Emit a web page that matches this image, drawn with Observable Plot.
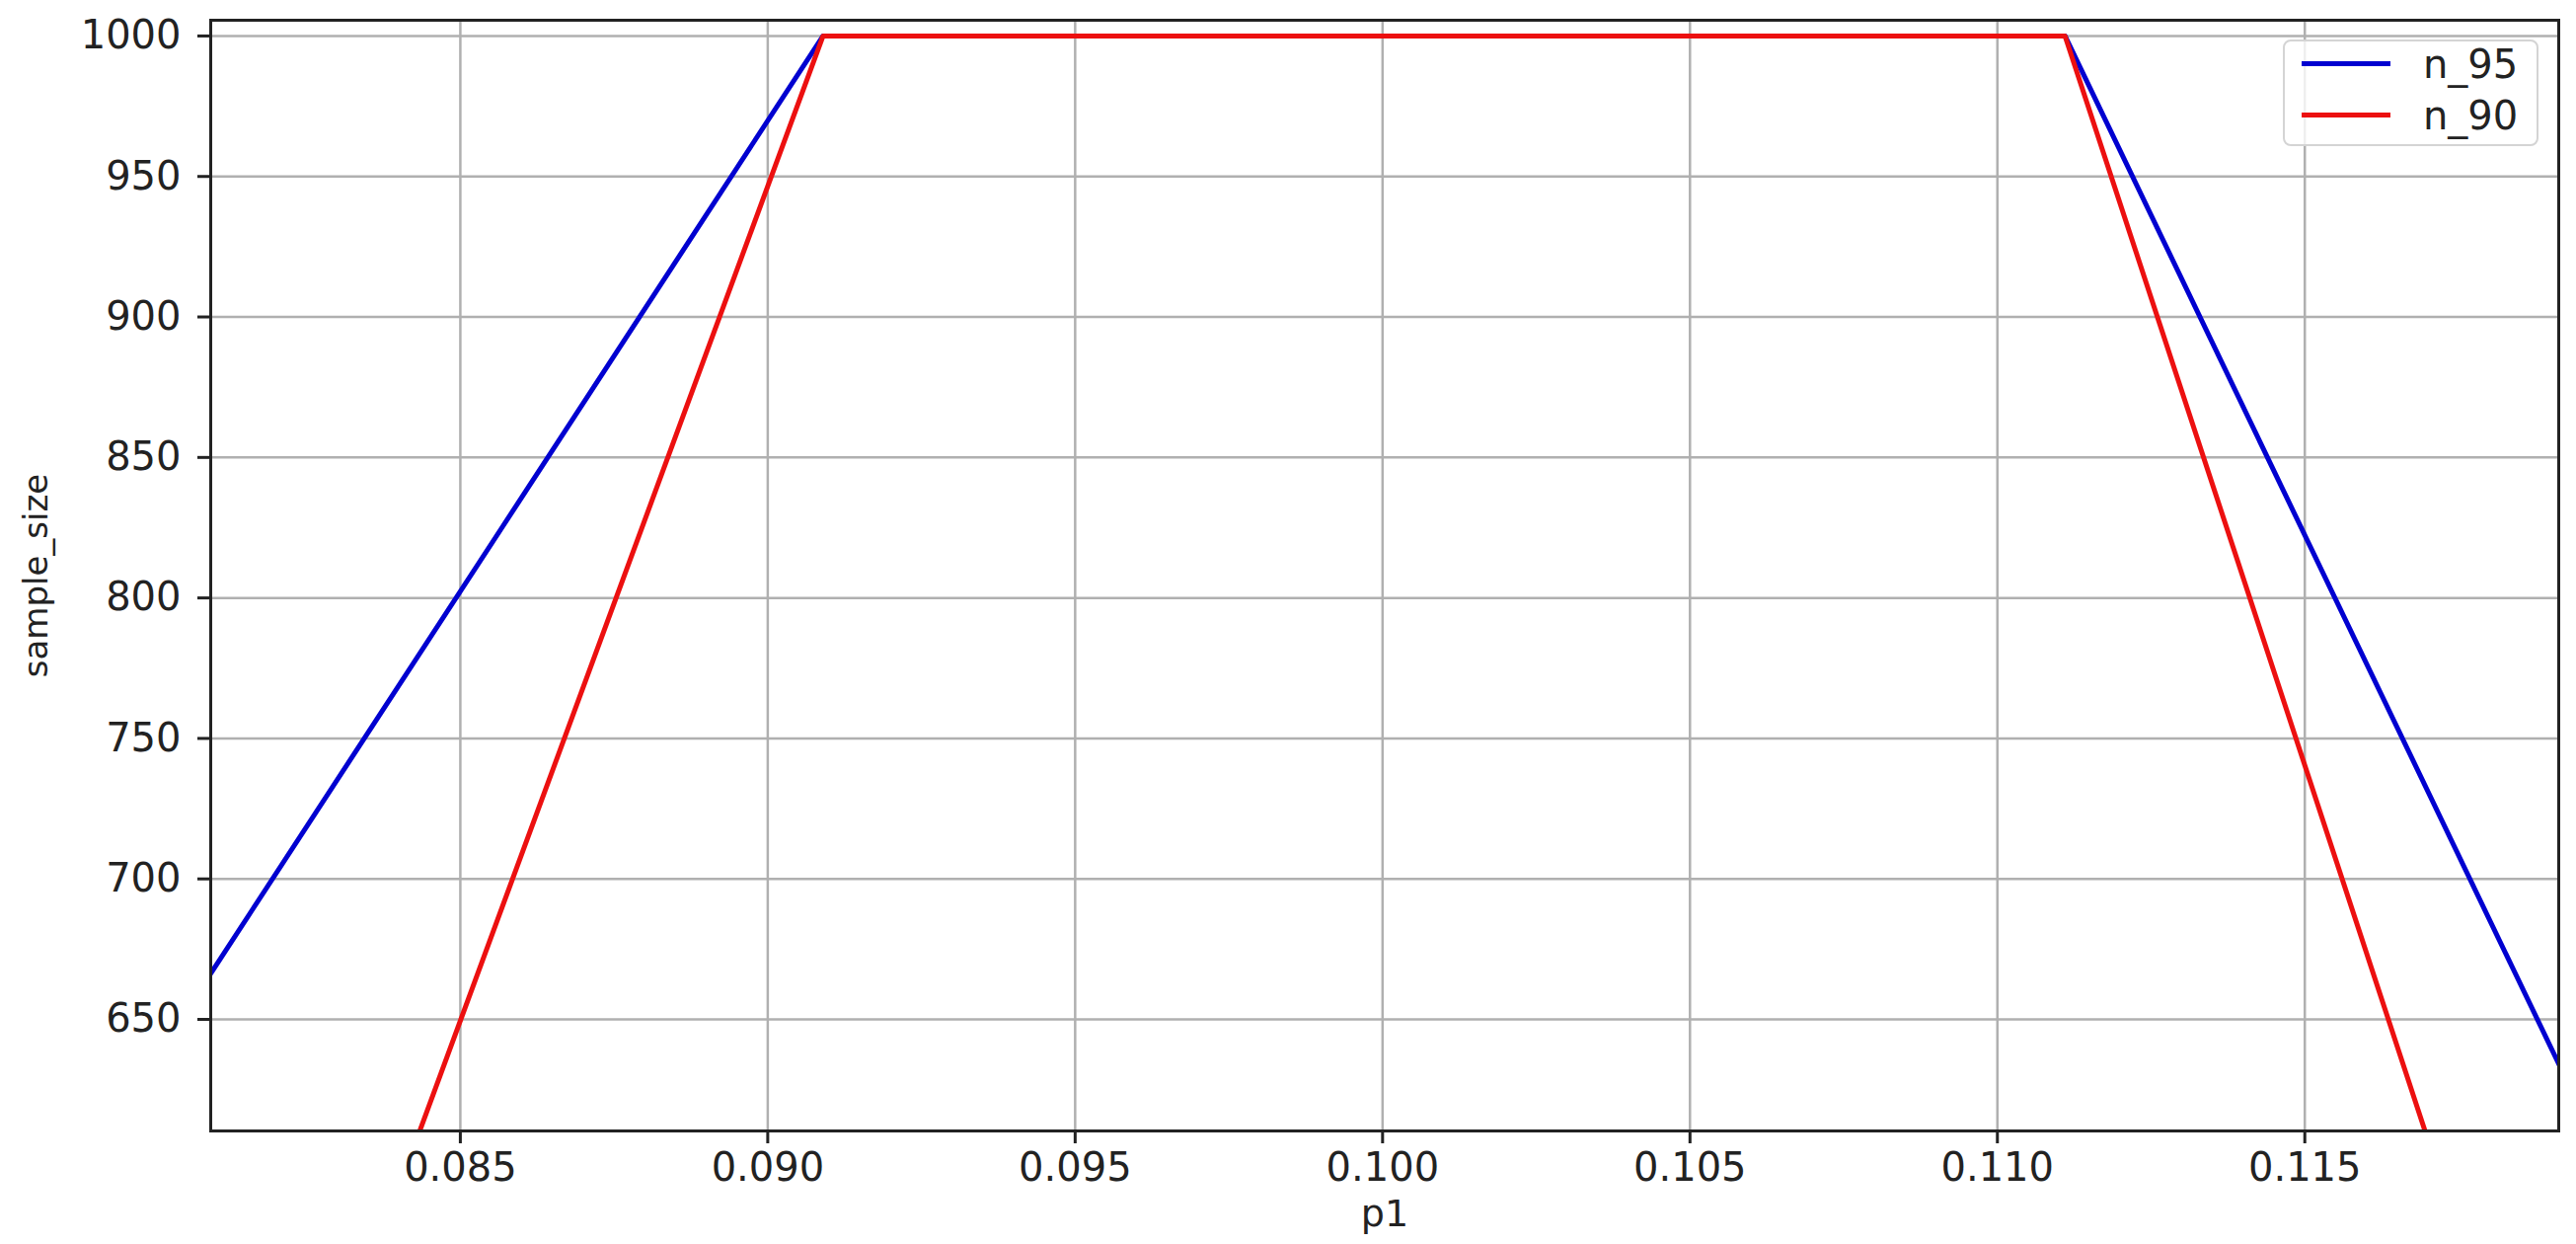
<!DOCTYPE html>
<html><head><meta charset="utf-8">
<script src="https://cdn.jsdelivr.net/npm/d3@7"></script>
<script src="https://cdn.jsdelivr.net/npm/@observablehq/plot@0.6"></script>
<style>
body{margin:0;background:#fff;}
#wrap{position:relative;width:2610px;height:1260px;overflow:hidden;background:#fff;}
#chart{position:absolute;left:0;top:0;width:2610px;height:1260px;}
.legend{position:absolute;left:2313px;top:40px;width:255px;height:104px;border:2px solid #d4d4d4;border-radius:8px;background:rgba(255,255,255,0.8);font-family:"DejaVu Sans";font-size:40px;color:#222;}
.legend .h{position:absolute;left:17px;width:90px;height:5px;}
.legend .t{position:absolute;left:140px;line-height:1;}
</style></head><body>
<div id="wrap"><div id="chart"></div><div class="legend" id="legend"></div></div>
<script>
const xDomain = [0.08094, 0.11913];
const yDomain = [610.3, 1005.6];
const xTicks = [0.085, 0.090, 0.095, 0.100, 0.105, 0.110, 0.115];
const yTicks = [650, 700, 750, 800, 850, 900, 950, 1000];
const seriesNames = ["n_95", "n_90"];
const seriesColors = ["#0000d0", "#ec1010"];
const p1_n95 = [0.0809, 0.0909, 0.1111, 0.1192];
const n95 = [665, 1000, 1000, 631];
const p1_n90 = [0.0842, 0.0909, 0.1111, 0.1172];
const n90 = [602, 1000, 1000, 594];
const xLabel = "p1";
const yLabel = "sample_size";

const rows = [
  ...p1_n95.map((p, i) => ({p1: p, n: n95[i], s: seriesNames[0]})),
  ...p1_n90.map((p, i) => ({p1: p, n: n90[i], s: seriesNames[1]}))
];

const chart = Plot.plot({
  width: 2610, height: 1260,
  marginLeft: 213, marginRight: 18, marginTop: 20, marginBottom: 115,
  style: {fontFamily: "DejaVu Sans", fontSize: "40px", color: "#222", background: "#fff"},
  x: {domain: xDomain},
  y: {domain: yDomain},
  color: {domain: seriesNames, range: seriesColors},
  marks: [
    Plot.gridX(xTicks, {stroke: "#b0b0b0", strokeOpacity: 1, strokeWidth: 2.5}),
    Plot.gridY(yTicks, {stroke: "#b0b0b0", strokeOpacity: 1, strokeWidth: 2.5}),
    Plot.line(rows, {x: "p1", y: "n", z: "s", stroke: "s", strokeWidth: 5, clip: true}),
    Plot.frame({stroke: "#222", strokeWidth: 3}),
    Plot.axisX(xTicks, {tickFormat: d3.format(".3f"), tickSize: 13, tickPadding: 9, strokeWidth: 3, fontSize: 40, label: null}),
    Plot.axisY(yTicks, {tickFormat: d3.format("d"), tickSize: 13, tickPadding: 17, strokeWidth: 3, fontSize: 40, label: null}),
    Plot.text([yLabel], {frameAnchor: "left", textAnchor: "middle", lineAnchor: "middle", rotate: -90, dx: -176, fontSize: 34, fill: "#222"}),
    Plot.text([xLabel], {frameAnchor: "bottom", lineAnchor: "top", dy: 70, fontSize: 38, fill: "#222"})
  ]
});
document.getElementById("chart").appendChild(chart);

const leg = document.getElementById("legend");
seriesNames.forEach((name, i) => {
  const h = document.createElement("div");
  h.className = "h";
  h.style.top = (20 + i * 52) + "px";
  h.style.background = seriesColors[i];
  leg.appendChild(h);
  const t = document.createElement("div");
  t.className = "t";
  t.style.top = (3 + i * 52) + "px";
  t.textContent = name;
  leg.appendChild(t);
});
</script>
</body></html>
